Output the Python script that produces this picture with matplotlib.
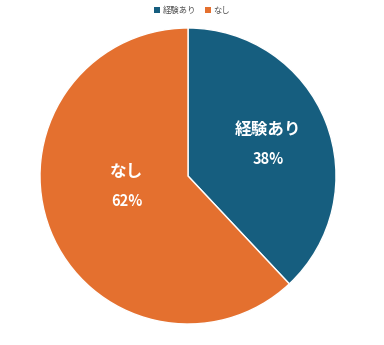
import numpy as np
import matplotlib
matplotlib.use('Agg')
import matplotlib.pyplot as plt
from matplotlib.patches import Patch

plt.rcParams['font.family'] = ['Noto Sans CJK JP', 'DejaVu Sans']

# data
labels = ['経験あり', 'なし']
values = [38, 62]
colors = ['#165e7f', '#e4702f']
label_r = [0.58, 0.42]
label_shift = [0, 12]  # degrees, label nudged from wedge middle

fig = plt.figure(figsize=(3.84, 3.45), dpi=100)
ax = fig.add_axes([0, 0, 1, 1])

cx, cy, R = 188, 169, 148
wedges, _ = ax.pie(values, colors=colors, startangle=90, counterclock=False,
                   center=(cx, cy), radius=R, frame=True,
                   wedgeprops=dict(edgecolor='white', linewidth=1))
ax.set_xlim(0, 384)
ax.set_ylim(0, 345)
ax.set_aspect('equal')
ax.axis('off')

for w, lab, v, fr, sh in zip(wedges, labels, values, label_r, label_shift):
    ang = np.deg2rad((w.theta1 + w.theta2) / 2 - sh)
    x = cx + fr * R * np.cos(ang)
    y = cy + fr * R * np.sin(ang)
    ax.text(x, y + 5, lab, ha='center', va='bottom', color='white',
            fontsize=12, fontweight='bold')
    ax.text(x, y - 7, f'{v}%', ha='center', va='top', color='white',
            fontsize=10.5, fontweight='bold')

handles = [Patch(facecolor=c, edgecolor='none') for c in colors]
fig.legend(handles, labels, loc='upper center', bbox_to_anchor=(0.5, 1.005),
           ncol=2, frameon=False, fontsize=6, handlelength=0.8, handleheight=0.8,
           handletextpad=0.3, columnspacing=1.0, labelcolor='#555555')

fig.savefig('out.png', dpi=100)
